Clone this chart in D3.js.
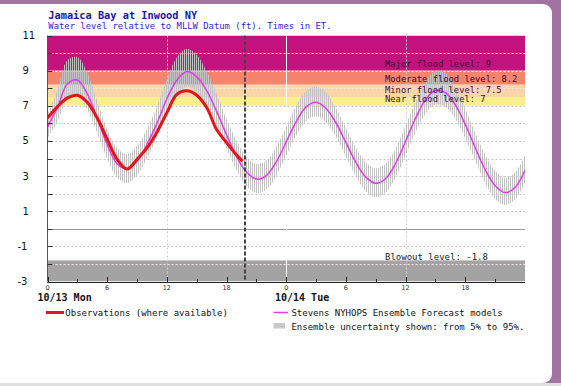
<!DOCTYPE html>
<html><head><meta charset="utf-8">
<script src="https://cdn.jsdelivr.net/npm/d3@7"></script>
<style>
html,body{margin:0;padding:0;background:#fff;overflow:hidden;}
svg{display:block;}
</style></head>
<body>
<svg id="c" width="561" height="386"></svg>
<script>
// ---------------- DATA ----------------
const titleText = "Jamaica Bay at Inwood NY";
const subtitleText = "Water level relative to MLLW Datum (ft). Times in ET.";

const forecastHours = [0,1,2,3,4,5,6,7,8,9,10,11,12,13,14,15,16,17,18,19,20,21,22,23,24,
  25,26,27,28,29,30,31,32,33,34,35,36,37,38,39,40,41,42,43,44,45,46,47,48];
const forecastLevel = [5.8,6.9,8.25,8.47,7.68,6.28,4.78,3.7,3.41,3.85,4.8,6.0,7.4,8.45,8.95,8.66,7.86,6.68,5.35,4.13,3.23,2.83,3.03,3.81,4.95,
  6.1,6.94,7.2,6.85,6.02,4.9,3.78,2.94,2.59,2.86,3.73,4.98,6.29,7.35,7.87,7.75,7.05,5.93,4.61,3.36,2.45,2.06,2.35,3.33];
const ensembleHigh = [6.5,7.9,9.6,9.77,8.88,7.28,5.68,4.6,4.26,4.7,5.7,6.95,8.5,9.75,10.25,9.91,8.96,7.68,6.25,5.03,4.08,3.68,3.88,4.66,5.8,
  7.0,7.84,8.1,7.75,6.87,5.75,4.63,3.79,3.44,3.71,4.58,5.88,7.24,8.35,8.97,8.85,8.05,6.83,5.46,4.21,3.3,2.91,3.2,4.18];
const ensembleLow = [5.15,6.1,7.35,7.57,6.78,5.43,3.98,2.9,2.61,3.05,4.0,5.2,6.6,7.6,8.1,7.81,7.06,5.88,4.55,3.33,2.43,2.03,2.23,3.01,4.15,
  5.3,6.14,6.4,6.05,5.22,4.1,2.98,2.14,1.79,2.06,2.93,4.18,5.49,6.55,7.07,6.95,6.25,5.13,3.86,2.61,1.7,1.36,1.65,2.63];

const obsHours = [0,1,2,3,4,5,6,7,8,9,10,11,12,13,14,15,16,17,18,19,19.6];
const obsLevel = [6.3,6.95,7.45,7.6,7.2,6.3,5.1,3.95,3.4,3.95,4.6,5.5,6.6,7.65,7.85,7.6,6.9,5.65,4.9,4.2,3.85];

const nowHour = 19.85;
const midnightHour = 24;

const floodNames = ["Major flood level: 9","Moderate flood level: 8.2","Minor flood level: 7.5","Near flood level: 7"];
const floodLevels = [9, 8.2, 7.5, 7];
const blowoutName = "Blowout level: -1.8";
const blowoutLevel = -1.8;

const yTickValues = [11,9,7,5,3,1,-1,-3];
const xTickHours = [0,6,12,18,24,30,36,42];
const xTickLabels = ["0","6","12","18","0","6","12","18"];
const dayLabels = ["10/13 Mon","10/14 Tue"];

const legendLabels = ["Observations (where available)","Stevens NYHOPS Ensemble Forecast models","Ensemble uncertainty shown: from 5% to 95%."];

// ---------------- STYLE ----------------
const bandColors = ["#c4137e","#f6836e","#fad5a6","#f8f08c"];
const blowoutColor = "#a3a3a3";
const obsColor = "#e3151b";
const fcColor = "#dd3fdd";
const mono = "'DejaVu Sans Mono', 'Liberation Mono', monospace";

const svg = d3.select("#c");
const x = d3.scaleLinear().domain([0,48]).range([47.5,525]);
const y = d3.scaleLinear().domain([-3,11]).range([281.5,35.5]);
const [yMin,yMax] = y.domain();

// frame
svg.append("rect").attr("width",561).attr("height",386).attr("fill","#a273a2");
svg.append("rect").attr("x",0).attr("y",383).attr("width",561).attr("height",3).attr("fill","#e2dde2");
svg.append("rect").attr("x",-12).attr("y",4).attr("width",564).attr("height",379).attr("rx",9).attr("fill","#fff");

const defs = svg.append("defs");
const pat = defs.append("pattern").attr("id","hatch").attr("patternUnits","userSpaceOnUse")
  .attr("width",2).attr("height",8);
pat.append("line").attr("x1",0.5).attr("x2",0.5).attr("y1",0).attr("y2",8)
  .attr("stroke","#c2c2c2").attr("stroke-width",1);
defs.append("clipPath").attr("id","plotclip").append("rect")
  .attr("x",x(0)).attr("y",y(yMax)).attr("width",x(48)-x(0)).attr("height",y(yMin)-y(yMax));

const plot = svg.append("g").attr("clip-path","url(#plotclip)");

// flood bands
plot.selectAll("rect.band").data(floodLevels).join("rect").attr("class","band")
  .attr("x",x(0)).attr("width",x(48)-x(0))
  .attr("y",(d,i)=> y(i===0?yMax:floodLevels[i-1]))
  .attr("height",(d,i)=> y(d)-y(i===0?yMax:floodLevels[i-1]))
  .attr("fill",(d,i)=>bandColors[i]);
plot.append("rect").attr("x",x(0)).attr("width",x(48)-x(0))
  .attr("y",y(blowoutLevel)).attr("height",y(yMin)-y(blowoutLevel)).attr("fill",blowoutColor);

// horizontal grid
const gridVals = d3.range(yMin+1, yMax, 1);
plot.selectAll("line.hg").data(gridVals).join("line").attr("class","hg")
  .attr("x1",x(0)).attr("x2",x(48)).attr("y1",d=>Math.round(y(d))+0.5).attr("y2",d=>Math.round(y(d))+0.5)
  .attr("stroke",d=> (d>floodLevels[3] || d<blowoutLevel) ? "#f4e6f0" : "#c4c4c4")
  .attr("stroke-dasharray","2,2").attr("stroke-width",1);
plot.append("line").attr("x1",x(0)).attr("x2",x(48)).attr("y1",Math.round(y(0))+0.5).attr("y2",Math.round(y(0))+0.5)
  .attr("stroke","#9a9a9a").attr("stroke-width",1);

// vertical grid
plot.selectAll("line.vg").data([12,36]).join("line").attr("class","vg")
  .attr("x1",d=>Math.round(x(d))+0.5).attr("x2",d=>Math.round(x(d))+0.5).attr("y1",y(yMax)).attr("y2",y(yMin))
  .attr("stroke","#d0d0d0").attr("stroke-dasharray","2,2");
plot.append("line").attr("x1",Math.round(x(midnightHour))+0.5).attr("x2",Math.round(x(midnightHour))+0.5)
  .attr("y1",y(yMax)).attr("y2",y(yMin)).attr("stroke","#ffffff").attr("stroke-width",1);

// ensemble band
const area = d3.area().x((d,i)=>x(forecastHours[i])).y0((d,i)=>y(ensembleLow[i])).y1((d,i)=>y(ensembleHigh[i]))
  .curve(d3.curveCatmullRom);
plot.append("path").datum(forecastHours).attr("d",area).attr("fill","url(#hatch)");

// flood labels
svg.selectAll("text.fl").data(floodNames).join("text").attr("class","fl")
  .attr("x",385).attr("y",(d,i)=>[67.3,82.3,93,102][i])
  .attr("font-family",mono).attr("font-size",8.8).attr("fill","#3c0838")
  .text(d=>d);
svg.append("text").attr("x",385).attr("y",259.5).attr("font-family",mono).attr("font-size",9)
  .attr("fill","#222").text(blowoutName);

// forecast line
const fcLine = d3.line().x((d,i)=>x(forecastHours[i])).y(d=>y(d)).curve(d3.curveCatmullRom);
plot.append("path").datum(forecastLevel).attr("d",fcLine).attr("fill","none")
  .attr("stroke",fcColor).attr("stroke-width",1.5);

// observations
const obsLine = d3.line().x((d,i)=>x(obsHours[i])).y(d=>y(d)).curve(d3.curveCatmullRom);
plot.append("path").datum(obsLevel).attr("d",obsLine).attr("fill","none")
  .attr("stroke",obsColor).attr("stroke-width",3);

// now line
plot.append("line").attr("x1",Math.round(x(nowHour))).attr("x2",Math.round(x(nowHour)))
  .attr("y1",y(yMax)).attr("y2",y(yMin)).attr("stroke","#444").attr("stroke-width",2)
  .attr("stroke-dasharray","4,2");

// axes
svg.append("line").attr("x1",x(0)).attr("x2",x(0)).attr("y1",y(yMax)).attr("y2",y(yMin))
  .attr("stroke","#555").attr("stroke-width",1);
svg.selectAll("line.yt").data(d3.range(yMin,yMax+1,1)).join("line").attr("class","yt")
  .attr("x1",x(0)).attr("x2",x(0)+5).attr("y1",d=>Math.round(y(d))+0.5).attr("y2",d=>Math.round(y(d))+0.5)
  .attr("stroke","#333");
svg.selectAll("text.yl").data(yTickValues).join("text").attr("class","yl")
  .attr("x",d=> d<0 ? 17.5 : 22.5).attr("y",d=>y(d)+3.5)
  .attr("font-family","'DejaVu Sans', sans-serif").attr("font-size",10).attr("fill","#111")
  .text(d=> String(d));

svg.append("line").attr("x1",x(0)).attr("x2",x(48)).attr("y1",282.5).attr("y2",282.5).attr("stroke","#222");
const xMinor = d3.range(0,48,3);
svg.selectAll("line.xt").data(xMinor).join("line").attr("class","xt")
  .attr("x1",d=>Math.round(x(d))+0.5).attr("x2",d=>Math.round(x(d))+0.5)
  .attr("y1",282.5).attr("y2",d=> d%6===0 ? 277 : 279).attr("stroke","#222");
svg.selectAll("text.xl").data(xTickHours).join("text").attr("class","xl")
  .attr("x",d=>x(d)).attr("y",290).attr("text-anchor","middle")
  .attr("font-family","'DejaVu Sans', sans-serif").attr("font-size",6.5).attr("fill","#333")
  .text((d,i)=>xTickLabels[i]);
svg.selectAll("text.day").data(dayLabels).join("text").attr("class","day")
  .attr("x",(d,i)=>[37.5,275][i]).attr("y",300.5)
  .attr("font-family",mono).attr("font-size",10).attr("font-weight","bold").attr("fill","#111")
  .text(d=>d);

// title
svg.append("text").attr("x",48.3).attr("y",19).attr("font-family",mono).attr("font-size",10.3)
  .attr("font-weight","bold").attr("fill","#1a1aa0").text(titleText);
svg.append("text").attr("x",48.3).attr("y",28.5).attr("font-family",mono).attr("font-size",8.9)
  .attr("fill","#2a2ad0").text(subtitleText);

// legend
svg.append("line").attr("x1",46).attr("x2",64).attr("y1",312.5).attr("y2",312.5).attr("stroke",obsColor).attr("stroke-width",3);
svg.append("text").attr("x",65.3).attr("y",315.5).attr("font-family",mono).attr("font-size",9).attr("fill","#111").text(legendLabels[0]);
svg.append("line").attr("x1",273.5).attr("x2",288).attr("y1",312.5).attr("y2",312.5).attr("stroke",fcColor).attr("stroke-width",1.5);
svg.append("text").attr("x",291.4).attr("y",315.5).attr("font-family",mono).attr("font-size",9).attr("fill","#111").text(legendLabels[1]);
svg.append("rect").attr("x",273.5).attr("y",323).attr("width",11.5).attr("height",5.5).attr("fill","#c8c8c8");
svg.append("text").attr("x",291.4).attr("y",330.3).attr("font-family",mono).attr("font-size",9).attr("fill","#111").text(legendLabels[2]);
</script>
</body></html>
